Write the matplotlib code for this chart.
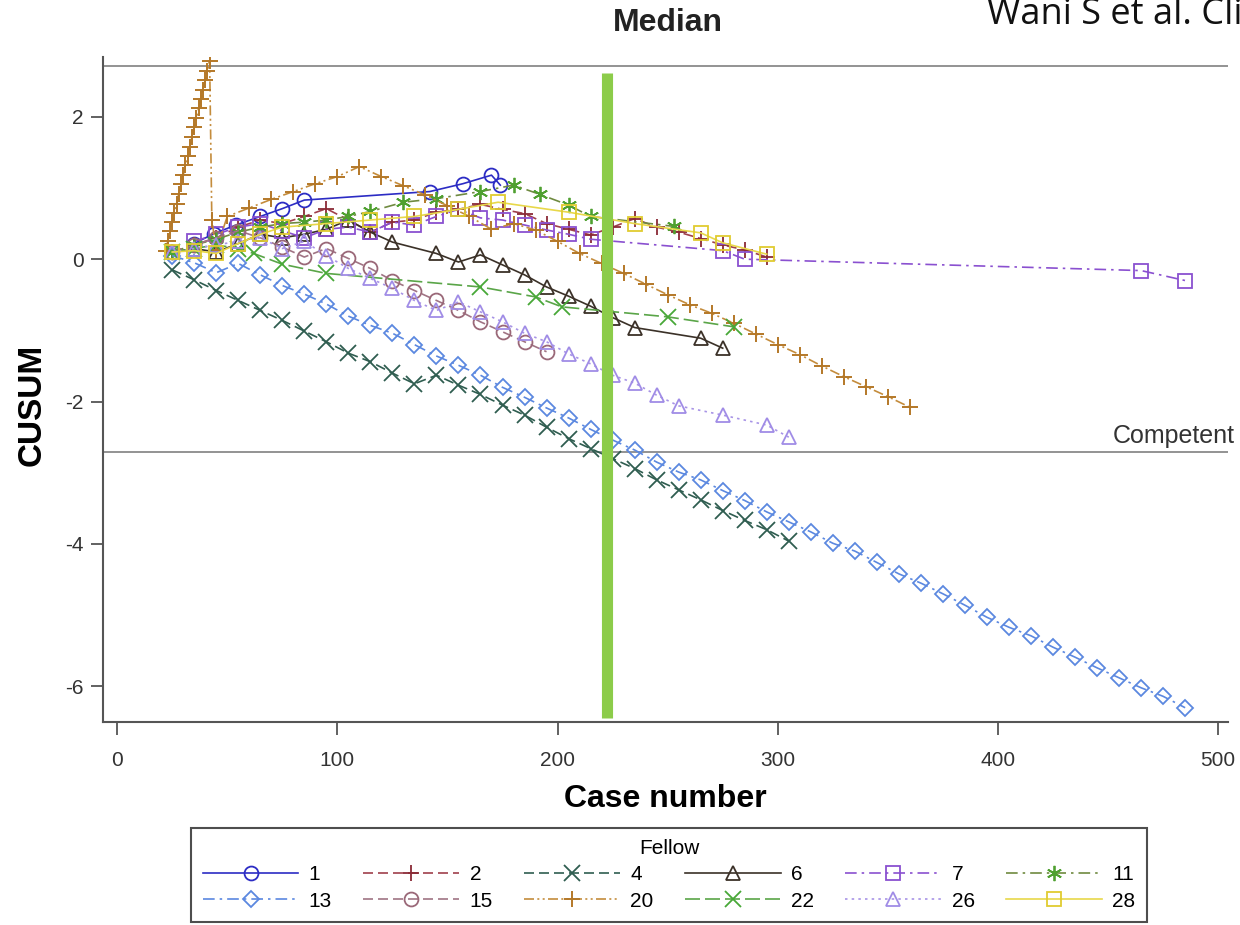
import matplotlib
matplotlib.use("Agg")
import matplotlib.pyplot as plt

plt.rcParams["font.family"] = ["Liberation Sans", "DejaVu Sans"]
plt.rcParams["axes.unicode_minus"] = False

# CUSUM curves per fellow
x1 = [35, 44, 54, 65, 75, 85, 142, 157, 170, 174]
y1 = [0.22, 0.36, 0.48, 0.60, 0.71, 0.83, 0.95, 1.06, 1.18, 1.04]

x2 = [25, 35, 45, 55, 65, 75, 85, 95, 105, 115, 125, 135, 145, 155, 165, 175,
      185, 195, 205, 215, 225, 235, 245, 255, 265, 275, 285, 295]
y2 = [0.10, 0.20, 0.30, 0.45, 0.55, 0.50, 0.60, 0.71, 0.55, 0.38, 0.52, 0.55,
      0.66, 0.70, 0.77, 0.70, 0.64, 0.50, 0.42, 0.34, 0.45, 0.57, 0.45, 0.38,
      0.29, 0.20, 0.13, 0.03]

x4 = [25, 35, 45, 55, 65, 75, 85, 95, 105, 115, 125, 135, 145, 155, 165, 175,
      185, 195, 205, 215, 225, 235, 245, 255, 265, 275, 285, 295, 305]
y4 = [-0.15, -0.29, -0.44, -0.58, -0.72, -0.86, -1.01, -1.16, -1.32, -1.44,
      -1.60, -1.75, -1.63, -1.77, -1.90, -2.05, -2.19, -2.36, -2.52, -2.66,
      -2.80, -2.94, -3.10, -3.24, -3.38, -3.53, -3.67, -3.80, -3.96]

x6 = [25, 35, 45, 55, 65, 75, 85, 95, 105, 115, 125, 145, 155, 165, 175, 185,
      195, 205, 215, 225, 235, 265, 275]
y6 = [0.10, 0.15, 0.10, 0.22, 0.35, 0.30, 0.35, 0.42, 0.55, 0.38, 0.24, 0.08,
      -0.04, 0.06, -0.08, -0.22, -0.39, -0.52, -0.66, -0.82, -0.96, -1.11, -1.25]

x7 = [35, 45, 55, 65, 75, 85, 95, 105, 115, 125, 135, 145, 155, 165, 175, 185,
      195, 205, 215, 275, 285, 465, 485]
y7 = [0.25, 0.35, 0.45, 0.50, 0.40, 0.30, 0.42, 0.45, 0.38, 0.52, 0.48, 0.60,
      0.70, 0.58, 0.55, 0.48, 0.41, 0.35, 0.28, 0.12, 0.00, -0.16, -0.30]

x11 = [25, 35, 45, 55, 65, 75, 85, 95, 105, 115, 130, 145, 165, 180, 192, 205,
       215, 253]
y11 = [0.10, 0.20, 0.28, 0.38, 0.45, 0.50, 0.52, 0.55, 0.60, 0.67, 0.80, 0.85,
       0.95, 1.04, 0.91, 0.76, 0.60, 0.46]

x13 = [25, 35, 45, 55, 65, 75, 85, 95, 105, 115, 125, 135, 145, 155, 165, 175,
       185, 195, 205, 215, 225, 235, 245, 255, 265, 275, 285, 295, 305, 315,
       325, 335, 345, 355, 365, 375, 385, 395, 405, 415, 425, 435, 445, 455,
       465, 475, 485]
y13 = [0.05, -0.05, -0.19, -0.06, -0.22, -0.37, -0.49, -0.63, -0.80, -0.93,
       -1.04, -1.20, -1.36, -1.49, -1.63, -1.80, -1.94, -2.09, -2.23, -2.39,
       -2.54, -2.68, -2.85, -2.99, -3.10, -3.25, -3.39, -3.55, -3.69, -3.83,
       -3.99, -4.10, -4.26, -4.42, -4.55, -4.70, -4.86, -5.03, -5.17, -5.29,
       -5.45, -5.59, -5.74, -5.88, -6.02, -6.14, -6.30]

x15 = [25, 35, 45, 55, 65, 75, 85, 95, 105, 115, 125, 135, 145, 155, 165, 175,
       185, 195]
y15 = [0.10, 0.20, 0.30, 0.40, 0.30, 0.17, 0.03, 0.15, 0.01, -0.13, -0.30,
       -0.44, -0.58, -0.72, -0.88, -1.02, -1.16, -1.30]

x20 = [22, 23, 24, 25, 26, 27, 28, 29, 30, 31, 32, 33, 34, 35, 36, 37, 38, 39,
       40, 41, 42, 43, 45, 50, 60, 70, 80, 90, 100, 110, 120, 130, 140, 150,
       160, 170, 180, 190, 200, 210, 220, 230, 240, 250, 260, 270, 280, 290,
       300, 310, 320, 330, 340, 350, 360]
y20 = [0.12, 0.25, 0.39, 0.52, 0.65, 0.78, 0.92, 1.05, 1.18, 1.32, 1.45, 1.58,
       1.72, 1.85, 1.98, 2.12, 2.25, 2.38, 2.52, 2.65, 2.79, 0.55, 0.13, 0.60,
       0.72, 0.84, 0.95, 1.06, 1.16, 1.30, 1.16, 1.03, 0.90, 0.75, 0.60, 0.42,
       0.50, 0.41, 0.25, 0.08, -0.06, -0.20, -0.35, -0.50, -0.64, -0.76, -0.90,
       -1.05, -1.20, -1.34, -1.50, -1.65, -1.79, -1.93, -2.08]

x22 = [25, 35, 45, 55, 62, 75, 95, 165, 190, 202, 250, 280]
y22 = [0.10, 0.15, 0.20, 0.15, 0.08, -0.07, -0.20, -0.39, -0.53, -0.67, -0.81,
       -0.95]

x26 = [25, 35, 45, 55, 65, 75, 85, 95, 105, 115, 125, 135, 145, 155, 165, 175,
       185, 195, 205, 215, 225, 235, 245, 255, 275, 295, 305]
y26 = [0.10, 0.15, 0.20, 0.25, 0.30, 0.15, 0.25, 0.05, -0.13, -0.27, -0.41,
       -0.58, -0.72, -0.60, -0.74, -0.88, -1.04, -1.16, -1.33, -1.47, -1.63,
       -1.74, -1.91, -2.06, -2.19, -2.33, -2.50]

x28 = [25, 35, 45, 55, 65, 75, 95, 115, 135, 155, 173, 205, 235, 265, 275, 295]
y28 = [0.10, 0.12, 0.08, 0.22, 0.35, 0.45, 0.50, 0.55, 0.60, 0.70, 0.80, 0.66,
       0.50, 0.37, 0.23, 0.07]

limit = 2.71
median_case = 222.5

dashdot = (0, (7, 3, 1.5, 3))
dashdotdot = (0, (6, 2, 1.2, 2, 1.2, 2))
asterisk = (6, 2, 0)
fellows = [
    ("1", x1, y1, "#2c2cc4", "-", "o", "#2c2cc4"),
    ("2", x2, y2, "#a0404c", (0, (6, 3)), "+", "#8a2a36"),
    ("4", x4, y4, "#2f5d50", (0, (6, 3)), "x", "#2f5d50"),
    ("6", x6, y6, "#3b3128", "-", "^", "#3b3128"),
    ("7", x7, y7, "#8a50d0", dashdot, "s", "#8a50d0"),
    ("11", x11, y11, "#6f8a40", dashdot, asterisk, "#4fa030"),
    ("13", x13, y13, "#5b88e0", dashdot, "D", "#5b88e0"),
    ("15", x15, y15, "#a07484", (0, (6, 3)), "o", "#9a6878"),
    ("20", x20, y20, "#c48c3c", dashdotdot, "+", "#b47828"),
    ("22", x22, y22, "#5aa548", (0, (9, 3)), "x", "#48a838"),
    ("26", x26, y26, "#a894e6", (0, (1.5, 2.5)), "^", "#a08ce6"),
    ("28", x28, y28, "#e8d84a", "-", "s", "#e0cc30"),
]

fig = plt.figure(figsize=(12.4, 9.25), dpi=100)
ax = fig.add_axes([0.0831, 0.2195, 0.9073, 0.7189])

handles = {}
for label, xs, ys, color, ls, marker, mcolor in fellows:
    if marker in ("o", "s", "^"):
        size = 10
    elif marker == "D":
        size = 8
    else:
        size = 11
    (line,) = ax.plot(
        xs, ys,
        color=color,
        linestyle=ls,
        linewidth=1.2,
        marker=marker,
        markersize=size,
        markerfacecolor="none",
        markeredgecolor=mcolor,
        markeredgewidth=1.4 if label == "20" else 1.3,
        label=label,
    )
    handles[label] = line

ax.axhline(limit, color="#8a8a8a", linewidth=1.3, zorder=1)
ax.axhline(-limit, color="#8a8a8a", linewidth=1.3, zorder=1)
ax.annotate("Competent", xy=(507.5, -limit), xytext=(0, 3),
            textcoords="offset points", ha="right", va="bottom",
            fontsize=18, color="#333333", annotation_clip=False)

ax.vlines(median_case, -6.45, 2.61, color="#8ccc4a", linewidth=8, zorder=10)

ax.set_xlim(-6.4, 504.5)
ax.set_ylim(-6.5, 2.84)
ax.set_xticks([0, 100, 200, 300, 400, 500])
ax.set_yticks([2, 0, -2, -4, -6])
ax.tick_params(direction="out", length=9, width=1.3, color="#555555",
               labelsize=15, labelcolor="#333333")
ax.tick_params(axis="x", pad=12)
ax.tick_params(axis="y", pad=5)
for side in ("top", "right"):
    ax.spines[side].set_visible(False)
for side in ("left", "bottom"):
    ax.spines[side].set_color("#555555")
    ax.spines[side].set_linewidth(1.5)

ax.set_xlabel("Case number", fontsize=23, fontweight="bold", labelpad=10)
ax.set_ylabel("CUSUM", fontsize=24, fontweight="bold")
ax.yaxis.set_label_coords(-0.049, 0.477)

fig.text(668 / 1240, 1 - 23 / 925, "Median", ha="center", va="center",
         fontsize=23, fontweight="bold", color="#222222")
fig.text(987 / 1240, 1 - 24 / 925, "Wani S et al. Clin Gastroenterol Hepatol",
         ha="left", va="baseline", fontsize=26, color="#111111",
         family=["Open Sans", "DejaVu Sans"])

# legend filled row by row like the original
row1 = ["1", "2", "4", "6", "7", "11"]
row2 = ["13", "15", "20", "22", "26", "28"]
order = []
for a, b in zip(row1, row2):
    order += [a, b]
leg = fig.legend(
    [handles[k] for k in order], order,
    loc="lower center",
    bbox_to_anchor=(669 / 1240, 3 / 925),
    borderaxespad=0,
    ncol=6,
    title="Fellow",
    fontsize=15,
    title_fontsize=15,
    numpoints=1,
    handlelength=4.6,
    handletextpad=0.5,
    columnspacing=1.5,
    labelspacing=0.35,
    borderpad=0.55,
    fancybox=False,
    frameon=True,
)
leg.get_frame().set_edgecolor("#222222")
leg.get_frame().set_linewidth(1.5)

fig.savefig("out.png", dpi=100)
